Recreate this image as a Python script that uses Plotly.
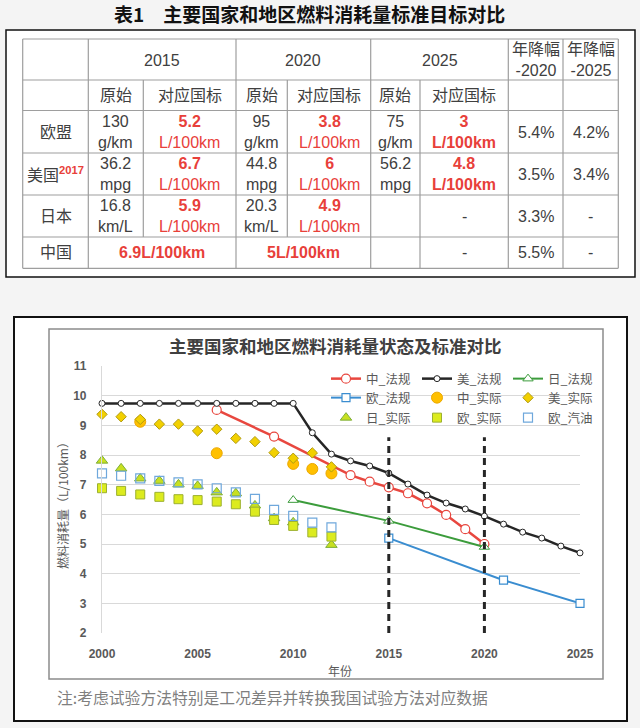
import plotly.graph_objects as go

W, H = 640, 728
CJK = "Liberation Sans, Noto Sans CJK SC"
RED = "#E8403A"
TXT = "#404040"

# ---------------- table data ----------------
tbl_title = "表1　主要国家和地区燃料消耗量标准目标对比"
tbl_years = ["2015", "2020", "2025"]
tbl_sub = ["原始", "对应国标"]
tbl_rate_hdr = ["年降幅<br>-2020", "年降幅<br>-2025"]
tbl_regions = ["欧盟", "美国", "日本", "中国"]
eu_raw = ["130<br>g/km", "95<br>g/km", "75<br>g/km"]
eu_std = ["5.2", "3.8", "3"]
us_raw = ["36.2<br>mpg", "44.8<br>mpg", "56.2<br>mpg"]
us_std = ["6.7", "6", "4.8"]
jp_raw = ["16.8<br>km/L", "20.3<br>km/L", ""]
jp_std = ["5.9", "4.9", "-"]
cn_std = ["6.9L/100km", "5L/100km", "-"]
rate_2020 = ["5.4%", "3.5%", "3.3%", "5.5%"]
rate_2025 = ["4.2%", "3.4%", "-", "-"]

# ---------------- chart data ----------------
chart_title = "主要国家和地区燃料消耗量状态及标准对比"
note = "注:考虑试验方法特别是工况差异并转换我国试验方法对应数据"

us_reg_years = [2000, 2001, 2002, 2003, 2004, 2005, 2006, 2007, 2008, 2009, 2010, 2011, 2012,
                2013, 2014, 2015, 2016, 2017, 2018, 2019, 2020, 2021, 2022, 2023, 2024, 2025]
us_reg = [9.74, 9.74, 9.74, 9.74, 9.74, 9.74, 9.74, 9.74, 9.74, 9.74, 9.74, 8.75, 8.03,
          7.80, 7.63, 7.39, 7.02, 6.65, 6.38, 6.18, 5.94, 5.67, 5.40, 5.20, 4.93, 4.70]
cn_reg_years = [2006, 2009, 2013, 2014, 2015, 2016, 2017, 2018, 2019, 2020]
cn_reg = [9.52, 8.62, 7.32, 7.10, 6.91, 6.71, 6.37, 5.98, 5.50, 5.00]
jp_reg_years = [2010, 2015, 2020]
jp_reg = [6.48, 5.78, 4.90]
eu_reg_years = [2015, 2021, 2025]
eu_reg = [5.2, 3.78, 3.0]

cn_act_years = [2002, 2006, 2010, 2011, 2012]
cn_act = [9.12, 8.06, 7.70, 7.53, 7.38]
act_years = [2000, 2001, 2002, 2003, 2004, 2005, 2006, 2007, 2008, 2009, 2010, 2011, 2012]
us_act = [9.37, 9.29, 9.20, 9.04, 9.04, 8.81, 8.87, 8.56, 8.45, 8.08, 7.89, 8.07, 7.60]
jp_act = [7.81, 7.55, 7.21, 7.13, 7.01, 6.96, 6.74, 6.71, 6.30, 5.87, 5.73, None, 4.97]
eu_act = [6.88, 6.79, 6.67, 6.59, 6.51, 6.48, 6.43, 6.34, 6.09, 5.81, 5.61, 5.39, 5.25]
eu_gas = [7.38, 7.30, 7.21, 7.13, 7.08, 7.01, 6.88, 6.74, 6.52, 6.15, 5.95, 5.72, 5.56]

target_years = [2015, 2020]


def px(x):
    return x / W


def py(y):
    return 1 - y / H


fig = go.Figure()

# regulation lines
fig.add_trace(go.Scatter(
    x=cn_reg_years, y=cn_reg, name="中_法规", mode="lines+markers", legend="legend",
    line=dict(color="#E8473F", width=2.5),
    marker=dict(symbol="circle", size=9, color="white", line=dict(color="#E8473F", width=1.2)),
))
fig.add_trace(go.Scatter(
    x=us_reg_years, y=us_reg, name="美_法规", mode="lines+markers", legend="legend",
    line=dict(color="#262626", width=2.5),
    marker=dict(symbol="circle", size=6, color="white", line=dict(color="#262626", width=1)),
))
fig.add_trace(go.Scatter(
    x=jp_reg_years, y=jp_reg, name="日_法规", mode="lines+markers", legend="legend",
    line=dict(color="#3C9C3C", width=2),
    marker=dict(symbol="triangle-up", size=9, color="white", line=dict(color="#3C9C3C", width=1)),
))
fig.add_trace(go.Scatter(
    x=eu_reg_years, y=eu_reg, name="欧_法规", mode="lines+markers", legend="legend2",
    line=dict(color="#3A8DD0", width=2),
    marker=dict(symbol="square", size=8, color="white", line=dict(color="#3A8DD0", width=1.2)),
))

# actual values
fig.add_trace(go.Scatter(
    x=cn_act_years, y=cn_act, name="中_实际", mode="markers", legend="legend2",
    marker=dict(symbol="circle", size=11, color="#FFC000", line=dict(color="#EBA800", width=1)),
))
fig.add_trace(go.Scatter(
    x=act_years, y=us_act, name="美_实际", mode="markers", legend="legend2",
    marker=dict(symbol="diamond", size=8, color="#F2D000", line=dict(color="#B09A10", width=1)),
))
fig.add_trace(go.Scatter(
    x=act_years, y=jp_act, name="日_实际", mode="markers", legend="legend3",
    marker=dict(symbol="triangle-up", size=10, color="#C8E020", line=dict(color="#7DAE3A", width=1)),
))
fig.add_trace(go.Scatter(
    x=act_years, y=eu_act, name="欧_实际", mode="markers", legend="legend3",
    marker=dict(symbol="square", size=9, color="#DCEB1E", line=dict(color="#9CB030", width=1)),
))
fig.add_trace(go.Scatter(
    x=act_years, y=eu_gas, name="欧_汽油", mode="markers", legend="legend3",
    marker=dict(symbol="square-open", size=9, color="#6FA8DC", line=dict(width=1.2)),
))
fig.update_traces(cliponaxis=False)

shapes = []
# outer frames
shapes.append(dict(type="rect", xref="paper", yref="paper", layer="below",
                   x0=px(6), x1=px(635), y0=py(30), y1=py(277),
                   line=dict(color="#111111", width=1.5), fillcolor="white"))
shapes.append(dict(type="rect", xref="paper", yref="paper", layer="below",
                   x0=px(14), x1=px(627), y0=py(317), y1=py(721),
                   line=dict(color="#111111", width=2), fillcolor="white"))
shapes.append(dict(type="rect", xref="paper", yref="paper", layer="below",
                   x0=px(49), x1=px(603), y0=py(329), y1=py(679),
                   line=dict(color="#8C8C8C", width=1.5), fillcolor="white"))

# table grid
grid = dict(color="#9E9E9E", width=1.2)
row_y = [39, 80, 110.5, 153, 195, 237, 268.3]
col_x = [22.7, 88.3, 236, 370.7, 508.3, 563, 618.3]
for yy in row_y:
    shapes.append(dict(type="line", xref="paper", yref="paper",
                       x0=px(22.7), x1=px(618.3), y0=py(yy), y1=py(yy), line=grid))
for xx in col_x:
    shapes.append(dict(type="line", xref="paper", yref="paper",
                       x0=px(xx), x1=px(xx), y0=py(39), y1=py(268.3), line=grid))
for xx, yb in [(143.3, 237), (287.3, 237), (420, 268.3)]:
    shapes.append(dict(type="line", xref="paper", yref="paper",
                       x0=px(xx), x1=px(xx), y0=py(80), y1=py(yb), line=grid))

# target year dashed lines
for yr in target_years:
    shapes.append(dict(type="line", xref="x", yref="y", x0=yr, x1=yr, y0=2, y1=8.6,
                       line=dict(color="#262626", width=3, dash="7px,5px")))

ann = []


def text_at(x, y, text, size, color, family=CJK, xanchor="center", angle=0):
    ann.append(dict(x=px(x), y=py(y), xref="paper", yref="paper", text=text,
                    showarrow=False, xanchor=xanchor, yanchor="middle", textangle=angle,
                    font=dict(family=family, size=size, color=color)))


def cell(x, y, text, color=TXT, size=16):
    text_at(x, y, text, size, color)


text_at(309, 13, "<b>" + tbl_title + "</b>", 19, "#111111", family="Noto Sans CJK SC")

group_x = [162, 303.3, 439.5]
sub_x = [(115.8, 189.7), (261.7, 329), (395.3, 464)]
rate_x = [535.7, 590.7]
row_c = [132.4, 174, 216, 252.7]

for gx, yr in zip(group_x, tbl_years):
    cell(gx, 60, yr)
for rx, t in zip(rate_x, tbl_rate_hdr):
    cell(rx, 60, t)
for (a, b) in sub_x:
    cell(a, 95.5, tbl_sub[0])
    cell(b, 95.5, tbl_sub[1])

for i, reg in enumerate(tbl_regions):
    label = reg
    if reg == "美国":
        label = reg + "<sup><b><span style='color:%s'>2017</span></b></sup>" % RED
    cell(55.5, row_c[i], label)

raws = [eu_raw, us_raw, jp_raw]
stds = [eu_std, us_std, jp_std]
for i in range(3):
    for j in range(3):
        a, b = sub_x[j]
        if raws[i][j]:
            cell(a, row_c[i], raws[i][j])
        v = stds[i][j]
        if v == "-":
            cell(b, row_c[i], "-")
        elif j == 2:
            cell(b, row_c[i], "<b>%s<br>L/100km</b>" % v, color=RED)
        else:
            cell(b, row_c[i], "<b>%s</b><br>L/100km" % v, color=RED)
for j in range(3):
    if cn_std[j] == "-":
        cell(sub_x[j][1], row_c[3], "-")
    else:
        cell(group_x[j], row_c[3], "<b>%s</b>" % cn_std[j], color=RED)
for i in range(4):
    cell(rate_x[0], row_c[i], rate_2020[i])
    cell(rate_x[1], row_c[i], rate_2025[i])

# chart texts
text_at(335, 345, "<b>" + chart_title + "</b>", 17.5, "#404040", family="Noto Sans CJK SC")
text_at(62, 503, "燃料消耗量（L/100km）", 12, "#595959", family="Noto Sans CJK SC", angle=-90)
text_at(340, 670, "年份", 12, "#595959", family="Noto Sans CJK SC")
text_at(55, 697, note, 15.8, "#7F7F7F", family="Noto Sans CJK SC", xanchor="left")

leg_font = dict(family="Noto Sans CJK SC", size=12.5, color="#595959")


def leg(row_y):
    return dict(orientation="h", x=px(326), y=py(row_y), xanchor="left", yanchor="middle",
                entrywidth=46, bgcolor="rgba(0,0,0,0)", borderwidth=0, font=leg_font)


fig.update_layout(
    width=W, height=H,
    margin=dict(l=0, r=0, t=0, b=0, pad=0, autoexpand=False),
    paper_bgcolor="#F4F4F4",
    plot_bgcolor="white",
    shapes=shapes,
    annotations=ann,
    showlegend=True,
    legend=leg(379),
    legend2=leg(398),
    legend3=leg(418),
    xaxis=dict(
        domain=[px(102), px(580)], range=[2000, 2025], tickvals=[2000, 2005, 2010, 2015, 2020, 2025],
        showgrid=False, zeroline=False, showline=False, ticks="", ticklabelstandoff=12,
        automargin=False,
        tickfont=dict(family="Liberation Sans", size=12, color="#595959", weight="bold"),
    ),
    yaxis=dict(
        domain=[py(633), py(366)], range=[2, 11], dtick=1,
        showgrid=True, gridcolor="#D9D9D9", gridwidth=1.2, zeroline=False,
        showline=True, linecolor="#D9D9D9", linewidth=1.2, ticks="", ticklabelstandoff=12,
        automargin=False,
        tickfont=dict(family="Liberation Sans", size=12, color="#595959", weight="bold"),
    ),
)

fig.write_html("out.html", config={"displayModeBar": False},
               post_script="document.body.style.margin='0px';")
